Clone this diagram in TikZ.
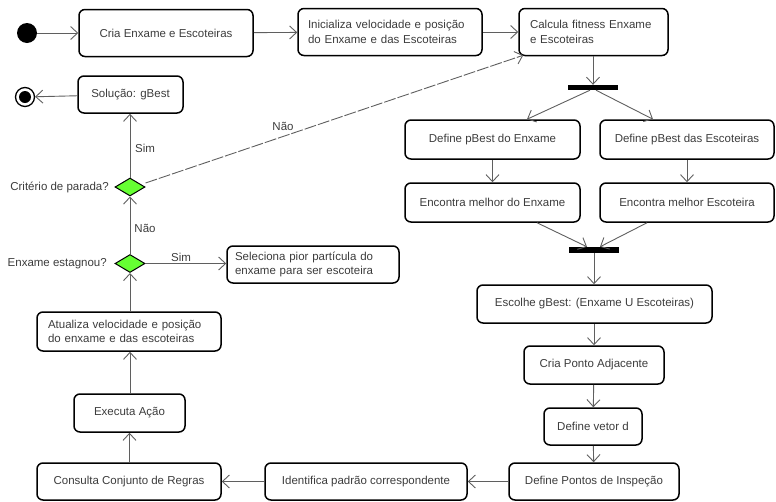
\documentclass[tikz,border=0pt]{standalone}
\usepackage{fontspec}
\setmainfont{Liberation Sans}
\usetikzlibrary{arrows.meta,shapes.geometric,calc}
\definecolor{txt}{RGB}{60,60,60}
\definecolor{ln}{RGB}{95,95,95}
\definecolor{dgreen}{RGB}{102,255,51}
\newcommand{\fsz}{\fontsize{11.5}{14.5}\selectfont}
\begin{document}
\begin{tikzpicture}[x=1pt,y=-1pt,
  act/.style={draw=black,line width=1.5pt,rounded corners=6pt,font=\fsz,text=txt,inner sep=0pt,align=center},
  actl/.style={act,align=left},
  flow/.style={draw=ln,line width=0.9pt,-{Straight Barb[length=7pt,width=13pt]}},
  lbl/.style={font=\fsz,text=txt,inner sep=1pt},
  dec/.style={diamond,draw=black,line width=1pt,fill=dgreen,minimum width=30pt,minimum height=18pt,inner sep=0pt},
  bar/.style={rectangle,fill=black,minimum width=50pt,minimum height=5pt,inner sep=0pt}]
\useasboundingbox (0,0) rectangle (776,501);

% nodes
\node[circle,fill=black,minimum size=20pt,inner sep=0pt] (start) at (27,33) {};
\node[act,minimum width=174pt,minimum height=47pt] (cria) at (166,33) {Cria Enxame e Escoteiras};
\node[actl,minimum height=47pt,text width=164pt,inner xsep=10pt] (inic) at (390,32) {Inicializa velocidade e posição\\do Enxame e das Escoteiras};
\node[actl,minimum height=47pt,text width=127pt,inner xsep=11pt] (calc) at (593.5,32) {Calcula fitness Enxame\\e Escoteiras};
\node[bar] (bar1) at (593,87.5) {};
\node[act,minimum width=175pt,minimum height=39pt] (dp1) at (492.5,139.5) {Define pBest do Enxame};
\node[act,minimum width=174pt,minimum height=39pt] (dp2) at (687,139.5) {Define pBest das Escoteiras};
\node[act,minimum width=175pt,minimum height=39pt] (em1) at (492.5,202.5) {Encontra melhor do Enxame};
\node[act,minimum width=174pt,minimum height=39pt] (em2) at (687,202.5) {Encontra melhor Escoteira};
\node[bar,minimum height=6pt] (bar2) at (594,250) {};
\node[act,minimum width=235pt,minimum height=38pt] (esc) at (594.5,304) {Escolhe gBest: (Enxame U Escoteiras)};
\node[act,minimum width=140pt,minimum height=38pt] (cpa) at (594,365) {Cria Ponto Adjacente};
\node[act,minimum width=98pt,minimum height=37pt] (dvd) at (593,426.5) {Define vetor d};
\node[act,minimum width=170pt,minimum height=37pt] (dpi) at (594,481.5) {Define Pontos de Inspeção};
\node[act,minimum width=202pt,minimum height=37pt] (ipc) at (366,481.5) {Identifica padrão correspondente};
\node[act,minimum width=184pt,minimum height=37pt] (ccr) at (129,481.5) {Consulta Conjunto de Regras};
\node[act,minimum width=111pt,minimum height=38pt] (exa) at (129.5,413) {Executa Ação};
\node[actl,minimum height=39pt,text width=162pt,inner xsep=11pt] (atu) at (129,331.5) {Atualiza velocidade e posição\\do enxame e das escoteiras};
\node[dec] (d1) at (130,263.5) {};
\node[dec] (d2) at (130,187) {};
\node[actl,minimum height=37pt,text width=156pt,inner xsep=8pt] (sel) at (313,264.5) {Seleciona pior partícula do\\enxame para ser escoteira};
\node[act,minimum width=105pt,minimum height=37pt] (sol) at (130.5,94.5) {Solução: gBest};
\node[circle,draw=black,fill=white,line width=1.3pt,minimum size=19pt,inner sep=0pt] (end) at (25,97) {};
\node[circle,fill=black,minimum size=12pt,inner sep=0pt] (endin) at (end) {};

% labels
\node[lbl,anchor=east] (q2) at (110,187) {Critério de parada?};
\node[lbl,anchor=east] (q1) at (108,263.5) {Enxame estagnou?};
\node[lbl] (ls1) at (145,148) {Sim};
\node[lbl] (ln1) at (145,228) {Não};
\node[lbl] (ls2) at (181,257) {Sim};
\node[lbl] (ln2) at (283,126) {Não};

% connectors
\draw[flow] (start) -- (cria);
\draw[flow] (cria) -- (inic);
\draw[flow] (inic) -- (calc);
\draw[flow] (calc.south -| bar1) -- (bar1.north);
\draw[flow] ($(bar1.south)+(-3,0)$) -- ($(dp1.north)+(34.5,0)$);
\draw[flow] ($(bar1.south)+(3,0)$) -- ($(dp2.north)+(-34,0)$);
\draw[flow] (dp1) -- (em1);
\draw[flow] (dp2) -- (em2);
\draw[flow] ($(em1.south)+(44.5,0)$) -- ($(bar2.north)+(-7,0)$);
\draw[flow] ($(em2.south)+(-40,0)$) -- ($(bar2.north)+(6,0)$);
\draw[flow] (bar2) -- (esc.north -| bar2);
\draw[flow] (esc.south -| cpa) -- (cpa);
\draw[flow] (cpa) -- (dvd);
\draw[flow] (dvd) -- (dpi);
\draw[flow] (dpi) -- (ipc);
\draw[flow] (ipc) -- (ccr);
\draw[flow] (ccr.north -| exa) -- (exa);
\draw[flow] (exa.north -| d1) -- (atu.south -| d1);
\draw[flow] (atu.north -| d1) -- (d1);
\draw[flow] (d1.east) -- (d1.east -| sel.west);
\draw[flow] (d1) -- (d2);
\draw[flow] (d2) -- (sol.south -| d2);
\draw[flow] (sol) -- (end);
\draw[flow,dash pattern=on 12pt off 2pt] ($(d2.east)+(0,-4)$) -- ($(calc.south west)+(5,-1)$);
\end{tikzpicture}
\end{document}
